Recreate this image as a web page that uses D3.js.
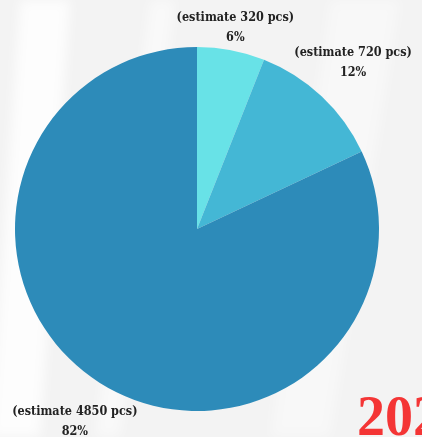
<!DOCTYPE html>
<html>
<head>
<meta charset="utf-8">
<script src="https://cdn.jsdelivr.net/npm/d3@7"></script>
<style>
  html, body { margin: 0; padding: 0; background: #f4f4f4; overflow: hidden; }
  svg { display: block; }
  .lbl { font-family: "DejaVu Serif Condensed", "DejaVu Serif", serif; font-weight: bold; font-size: 12.5px; fill: #222; }
</style>
</head>
<body>
<svg id="chart"></svg>
<script>
// data
var categories = ["estimate 320 pcs", "estimate 720 pcs", "estimate 4850 pcs"];
var pieces = [320, 720, 4850];
var shares = [6, 12, 82]; // slices are drawn from the printed percentages
var colours = ["#68e2e7", "#44b7d5", "#2d8bb9"];

var w = 422, h = 437;
var cx = 197, cy = 229, r = 182;

var svg = d3.select("#chart").attr("width", w).attr("height", h);

// background with soft diagonal streaks
var defs = svg.append("defs");
var blur = defs.append("filter").attr("id", "soft").attr("x", "-50%").attr("y", "-50%").attr("width", "200%").attr("height", "200%");
blur.append("feGaussianBlur").attr("stdDeviation", 6);

svg.append("rect").attr("width", w).attr("height", h).attr("fill", "#f3f3f3");
var streaks = svg.append("g").attr("filter", "url(#soft)").attr("fill", "#ffffff");
streaks.append("polygon").attr("points", "20,0 70,0 40,437 -10,437").attr("opacity", 0.8);
streaks.append("polygon").attr("points", "150,0 175,0 120,437 95,437").attr("opacity", 0.5);
streaks.append("polygon").attr("points", "330,0 400,0 330,437 270,437").attr("opacity", 0.4);

var pie = d3.pie().sort(null).value(function(d) { return d; });
var arcs = pie(shares);

var arc = d3.arc().innerRadius(0).outerRadius(r);
var labelArc = d3.arc().innerRadius(228).outerRadius(228);

var g = svg.append("g").attr("transform", "translate(" + cx + "," + cy + ")");

g.selectAll("path")
  .data(arcs)
  .enter().append("path")
  .attr("d", arc)
  .attr("fill", function(d, i) { return colours[i]; });

var labels = g.selectAll("text.lbl")
  .data(arcs)
  .enter().append("text")
  .attr("class", "lbl")
  .attr("text-anchor", "middle")
  .attr("transform", function(d) {
    var c = labelArc.centroid(d);
    var x = c[0], y = c[1] - 7;
    var top = 21 - cy;
    if (y < top) {
      // slide back along the ray so the label stays inside the top
      x = c[0] * (top + 7) / c[1];
      y = top;
    }
    return "translate(" + x + "," + y + ")";
  });

labels.append("tspan")
  .attr("x", 0).attr("y", 0)
  .text(function(d, i) { return "(" + categories[i] + ")"; });
labels.append("tspan")
  .attr("x", 0).attr("y", 20)
  .text(function(d, i) { return shares[i] + "%"; });

// year stamp, cut by the edge
svg.append("text")
  .attr("x", 357).attr("y", 435)
  .attr("font-family", "Liberation Serif, serif")
  .attr("font-weight", "bold")
  .attr("font-size", 56)
  .attr("fill", "#f43535")
  .text("2023");
</script>
</body>
</html>
